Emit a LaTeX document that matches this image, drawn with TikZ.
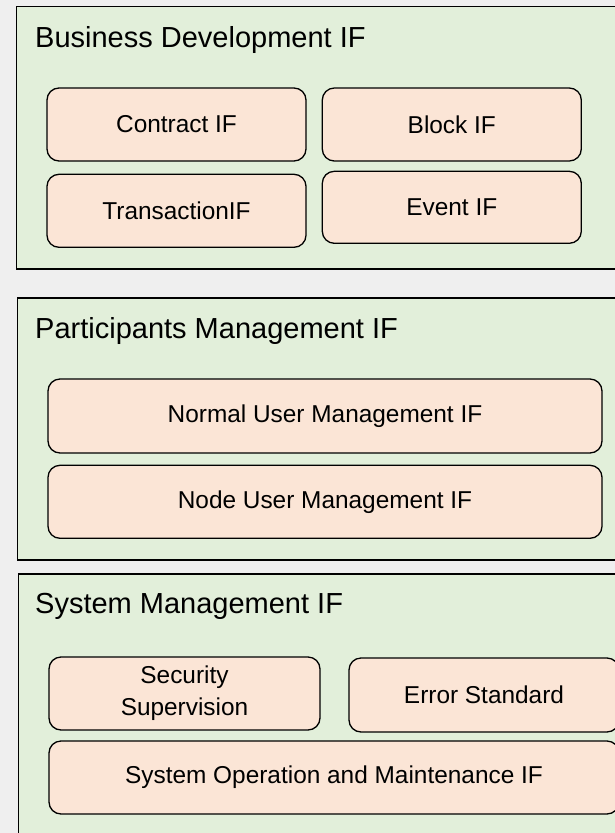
\documentclass[tikz,border=0pt]{standalone}
\usepackage{fontspec}
\setmainfont{Liberation Sans}
\usepackage{tikz}
\usetikzlibrary{positioning}
\definecolor{PageGray}{RGB}{239,239,239}
\definecolor{LayerGreen}{RGB}{226,239,218}
\definecolor{ItemPeach}{RGB}{251,229,214}
\tikzset{
  layer/.style={draw=black, line width=1.6pt, fill=LayerGreen, anchor=north west,
    inner sep=0pt, minimum width=640pt},
  layertitle/.style={anchor=base west, inner sep=0pt,
    font=\fontsize{29}{35}\selectfont},
  item/.style={draw=black, line width=1.3pt, fill=ItemPeach, rounded corners=12pt,
    align=center, inner sep=0pt, minimum height=73pt,
    font=\fontsize{24.4}{32}\selectfont}
}

\begin{document}
\begin{tikzpicture}[x=1pt, y=-1pt]
  \useasboundingbox (0,0) rectangle (615,833);
  \clip (0,0) rectangle (615,833);
  \fill[PageGray] (0,0) rectangle (615,833);

  % business layer
  \node[layer, minimum height=262.5pt] (bizlayer) at (15.5,5.5) {};
  \node[layertitle] (biztitle) at (35,47) {Business Development IF};
  \node[item, minimum width=259pt] (contract) at (176.5,124.5) {Contract IF};
  \node[item, minimum width=259pt, right=15pt of contract] (block) {Block IF};
  \node[item, minimum width=259pt, below=12pt of contract] (transaction) {TransactionIF};
  \node[item, minimum width=259pt, minimum height=72pt, below=9pt of block] (event) {Event IF};

  % participants layer
  \node[layer, minimum height=262pt] (partlayer) at (16.5,297) {};
  \node[layertitle] (parttitle) at (35,338) {Participants Management IF};
  \node[item, minimum width=554pt, minimum height=74pt] (normaluser) at (325,416) {Normal User Management IF};
  \node[item, minimum width=554pt, below=11pt of normaluser] (nodeuser) {Node User Management IF};

  % system layer
  \node[layer, minimum height=300pt] (syslayer) at (17.5,573) {};
  \node[layertitle] (systitle) at (35,613) {System Management IF};
  \node[item, minimum width=271pt] (security) at (184.5,693.5) {Security\\Supervision};
  \node[item, minimum width=270pt, minimum height=74pt] (error) at (484,695) {Error Standard};
  \node[item, minimum width=570pt] (sysop) at (334,777.5) {System Operation and Maintenance IF};
\end{tikzpicture}
\end{document}
